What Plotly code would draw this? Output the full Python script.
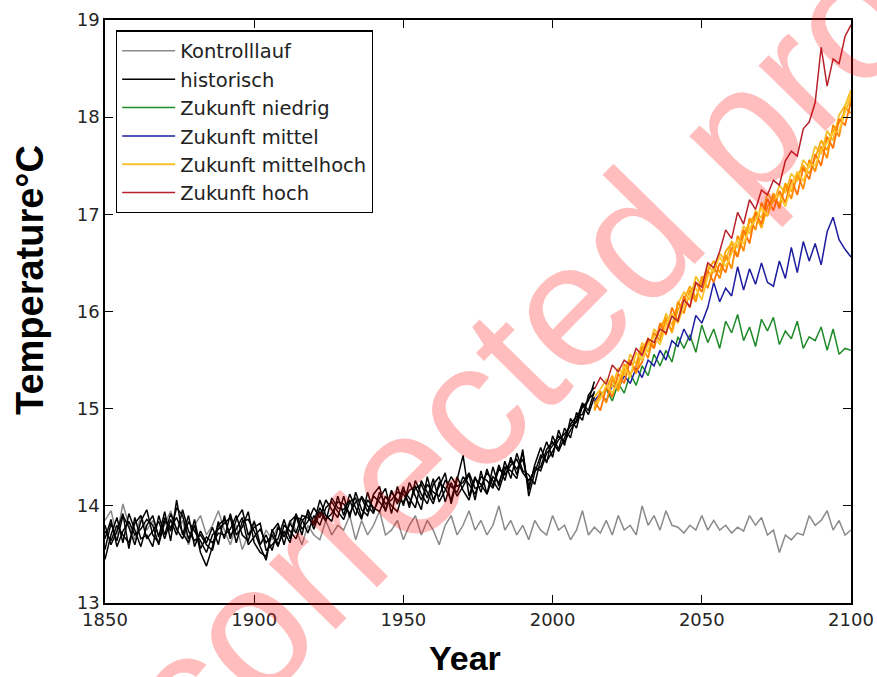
import plotly.graph_objects as go

# ---------------- data ----------------
years_ctrl = list(range(1850, 2101, 2))
years_hist = list(range(1850, 2015, 2))
years_fut = list(range(2014, 2101, 2))

kontrolllauf = [
    13.85, 13.95, 13.70, 14.02, 13.80, 13.65, 13.90, 13.75, 13.85, 13.70,
    13.80, 13.95, 13.75, 13.85, 13.60, 13.80, 13.90, 13.70, 13.80, 13.95,
    13.75, 13.60, 13.80, 13.55, 13.70, 13.85, 13.60, 13.75, 13.65, 13.80,
    13.70, 13.85, 13.75, 13.60, 13.80, 13.70, 13.65, 13.85, 13.70, 13.80,
    13.75, 13.90, 13.65, 13.85, 13.70, 13.80, 13.95, 13.70, 13.75, 13.85,
    13.65, 13.80, 13.90, 13.70, 13.85, 13.75, 13.60, 13.80, 13.90, 13.70,
    13.80, 13.95, 13.75, 13.85, 13.70, 13.80, 14.00, 13.75, 13.85, 13.70,
    13.80, 13.65, 13.85, 13.75, 13.70, 13.90, 13.75, 13.80, 13.65, 13.75,
    13.95, 13.70, 13.78, 13.72, 13.85, 13.70, 13.90, 13.75, 13.80, 13.70,
    14.00, 13.80, 13.90, 13.75, 13.95, 13.80, 13.78, 13.72, 13.80, 13.75,
    13.90, 13.75, 13.85, 13.75, 13.80, 13.72, 13.78, 13.74, 13.90, 13.80,
    13.88, 13.70, 13.75, 13.52, 13.70, 13.65, 13.72, 13.70, 13.90, 13.80,
    13.85, 13.95, 13.75, 13.85, 13.70, 13.75,
]

hist_1 = [
    13.55, 13.82, 13.64, 13.90, 13.78, 13.60, 13.84, 13.96, 13.70, 13.62,
    13.88, 13.74, 13.98, 13.90, 13.66, 13.80, 13.52, 13.38, 13.58, 13.84,
    13.66, 13.92, 13.70, 13.78, 13.94, 13.62, 13.52, 13.48, 13.74, 13.82,
    13.60, 13.84, 13.90, 13.70, 13.96, 13.82, 14.06, 13.90, 13.84, 14.10,
    13.90, 14.12, 13.98, 13.86, 14.14, 13.94, 14.08, 14.18, 13.92, 14.20,
    14.00, 14.24, 14.10, 13.96, 14.30, 14.06, 14.20, 14.34, 14.02, 14.28,
    14.52, 14.10, 14.30, 14.14, 14.38, 14.20, 14.42, 14.26, 14.50, 14.32,
    14.55, 14.16, 14.42, 14.60, 14.44, 14.72, 14.58, 14.80, 14.70, 14.96,
    14.88, 15.14, 15.22,
]
hist_2 = [
    13.45, 13.70, 13.88, 13.62, 13.92, 13.74, 13.58, 13.80, 13.90, 13.68,
    13.94, 13.64, 14.06, 13.70, 13.90, 13.58, 13.74, 13.62, 13.78, 13.60,
    13.90, 13.66, 13.86, 13.96, 13.70, 13.78, 13.82, 13.54, 13.60, 13.66,
    13.86, 13.66, 13.92, 13.76, 13.84, 13.98, 13.88, 14.06, 13.96, 13.88,
    14.10, 13.88, 14.14, 13.96, 13.90, 14.12, 14.20, 13.94, 14.16, 14.02,
    14.20, 13.98, 14.26, 14.12, 14.02, 14.22, 14.30, 14.04, 14.24, 14.10,
    14.20, 14.32, 14.06, 14.36, 14.12, 14.40, 14.20, 14.46, 14.28, 14.54,
    14.36, 14.32, 14.22, 14.48, 14.66, 14.50, 14.78, 14.62, 14.90, 14.80,
    15.04, 14.94, 15.12,
]
hist_3 = [
    13.80, 13.60, 13.74, 13.92, 13.56, 13.88, 13.66, 13.70, 13.58, 13.90,
    13.70, 13.92, 13.76, 13.66, 13.84, 13.74, 13.64, 13.52, 13.70, 13.76,
    13.82, 13.88, 13.62, 13.84, 13.86, 13.74, 13.58, 13.44, 13.76, 13.60,
    13.74, 13.62, 13.88, 13.86, 13.72, 13.90, 13.80, 13.98, 14.04, 13.94,
    13.86, 14.04, 14.08, 13.88, 14.06, 13.98, 13.94, 14.10, 14.00, 13.94,
    14.16, 14.08, 13.98, 14.26, 14.14, 14.02, 14.24, 14.18, 14.06, 14.30,
    14.16, 14.06, 14.28, 14.22, 14.12, 14.30, 14.24, 14.40, 14.36, 14.28,
    14.58, 14.10, 14.34, 14.52, 14.46, 14.56, 14.68, 14.74, 14.82, 14.86,
    15.02, 15.08, 15.28,
]
hist_4 = [
    13.66, 13.86, 13.58, 13.74, 13.84, 13.70, 13.76, 13.86, 13.80, 13.60,
    13.84, 13.78, 13.88, 13.72, 13.62, 13.86, 13.56, 13.68, 13.62, 13.72,
    13.70, 13.76, 13.90, 13.70, 13.64, 13.84, 13.60, 13.70, 13.54, 13.78,
    13.68, 13.82, 13.72, 13.90, 13.88, 13.80, 13.98, 13.86, 13.92, 14.04,
    14.02, 13.92, 14.04, 14.08, 13.94, 14.10, 14.04, 13.96, 14.14, 14.06,
    14.04, 14.16, 14.20, 14.06, 14.22, 14.14, 14.10, 14.26, 14.20, 14.14,
    14.30, 14.22, 14.12, 14.30, 14.26, 14.18, 14.38, 14.32, 14.42, 14.48,
    14.34, 14.26, 14.36, 14.40, 14.58, 14.66, 14.56, 14.70, 14.84, 14.92,
    14.94, 15.10, 15.16,
]
hist_5 = [
    13.74, 13.64, 13.80, 13.70, 13.62, 13.82, 13.90, 13.66, 13.74, 13.84,
    13.66, 13.86, 13.70, 13.96, 13.74, 13.64, 13.70, 13.60, 13.54, 13.80,
    13.86, 13.70, 13.76, 13.88, 13.60, 13.68, 13.76, 13.62, 13.70, 13.58,
    13.80, 13.74, 13.66, 13.84, 13.92, 13.76, 13.94, 13.84, 14.08, 13.98,
    13.96, 14.06, 13.90, 14.10, 14.00, 13.92, 14.14, 14.02, 14.06, 14.14,
    14.12, 14.02, 14.18, 14.22, 14.08, 14.28, 14.04, 14.16, 14.30, 14.20,
    14.24, 14.34, 14.18, 14.20, 14.34, 14.26, 14.16, 14.36, 14.46, 14.38,
    14.48, 14.20, 14.40, 14.36, 14.54, 14.62, 14.72, 14.66, 14.78, 14.88,
    15.06, 14.98, 15.18,
]

niedrig = [
    15.05, 15.14, 15.20, 15.08, 15.26, 15.16, 15.36, 15.24, 15.44, 15.34,
    15.56, 15.44, 15.60, 15.48, 15.74, 15.62, 15.76, 15.58, 15.86, 15.68,
    15.82, 15.62, 15.90, 15.78, 15.97, 15.70, 15.84, 15.64, 15.92, 15.80,
    15.94, 15.66, 15.80, 15.72, 15.90, 15.62, 15.74, 15.70, 15.84, 15.60,
    15.82, 15.56, 15.62, 15.60,
]
mittel = [
    15.08, 15.16, 15.08, 15.24, 15.20, 15.34, 15.26, 15.42, 15.32, 15.50,
    15.44, 15.60, 15.50, 15.70, 15.64, 15.82, 15.70, 15.96, 15.88, 16.04,
    16.30, 16.10, 16.24, 16.16, 16.46, 16.22, 16.44, 16.28, 16.50, 16.30,
    16.26, 16.52, 16.34, 16.66, 16.40, 16.72, 16.52, 16.70, 16.48, 16.82,
    16.97, 16.74, 16.64, 16.56,
]
mittelhoch_1 = [
    15.00, 15.18, 15.06, 15.30, 15.22, 15.46, 15.36, 15.44, 15.64, 15.52,
    15.78, 15.70, 15.92, 15.80, 16.10, 15.98, 16.22, 16.10, 16.36, 16.24,
    16.46, 16.34, 16.58, 16.44, 16.78, 16.62, 16.96, 16.84, 17.12, 16.98,
    17.22, 17.06, 17.30, 17.16, 17.42, 17.26, 17.56, 17.44, 17.70, 17.58,
    17.92, 17.80, 18.10, 18.04,
]
mittelhoch_2 = [
    15.08, 14.98, 15.22, 15.12, 15.36, 15.26, 15.50, 15.38, 15.48, 15.70,
    15.62, 15.88, 15.76, 16.04, 15.90, 16.16, 16.04, 16.30, 16.20, 16.42,
    16.30, 16.50, 16.40, 16.66, 16.56, 16.84, 16.70, 17.02, 16.90, 17.16,
    17.04, 17.24, 17.12, 17.36, 17.20, 17.48, 17.36, 17.62, 17.50, 17.80,
    17.68, 17.98, 17.92, 18.16,
]
mittelhoch_3 = [
    15.12, 15.20, 15.30, 15.22, 15.42, 15.34, 15.56, 15.46, 15.68, 15.58,
    15.82, 15.74, 15.98, 15.86, 16.08, 16.20, 16.12, 16.36, 16.26, 16.48,
    16.40, 16.60, 16.52, 16.72, 16.66, 16.88, 16.80, 17.04, 16.96, 17.22,
    17.12, 17.30, 17.22, 17.42, 17.34, 17.56, 17.48, 17.70, 17.62, 17.86,
    17.76, 18.02, 18.12, 18.28,
]
mittelhoch_4 = [
    14.98, 15.12, 15.20, 15.34, 15.18, 15.40, 15.50, 15.36, 15.60, 15.72,
    15.64, 15.84, 15.94, 15.78, 16.02, 16.12, 16.26, 16.14, 16.32, 16.42,
    16.52, 16.40, 16.62, 16.70, 16.58, 16.78, 16.92, 17.00, 16.86, 17.08,
    17.18, 17.10, 17.32, 17.24, 17.38, 17.50, 17.42, 17.58, 17.76, 17.66,
    17.86, 17.94, 18.06, 18.20,
]
mittelhoch_5 = [
    15.04, 15.10, 15.24, 15.16, 15.28, 15.44, 15.32, 15.58, 15.50, 15.66,
    15.74, 15.66, 15.86, 15.98, 15.88, 16.06, 16.18, 16.24, 16.12, 16.36,
    16.44, 16.56, 16.46, 16.60, 16.74, 16.70, 16.86, 16.94, 17.06, 17.00,
    17.14, 17.20, 17.08, 17.30, 17.44, 17.34, 17.52, 17.50, 17.66, 17.74,
    17.84, 17.86, 18.04, 18.24,
]
hoch = [
    15.20, 15.32, 15.25, 15.45, 15.38, 15.50, 15.45, 15.62, 15.55, 15.72,
    15.68, 15.82, 15.78, 15.95, 15.90, 16.12, 16.05, 16.30, 16.25, 16.50,
    16.45, 16.62, 16.84, 16.75, 17.02, 16.90, 17.15, 17.05, 17.25, 17.20,
    17.35, 17.30, 17.55, 17.65, 17.60, 17.88, 17.95, 18.15, 18.72, 18.32,
    18.60, 18.55, 18.83, 18.95,
]

x_ticks = [1850, 1900, 1950, 2000, 2050, 2100]
y_ticks = [13, 14, 15, 16, 17, 18, 19]

# ---------------- figure ----------------
fig = go.Figure()
LW = 1.5


def add(x, y, name, color, show, group, width=LW):
    fig.add_trace(go.Scatter(
        x=x, y=y, mode="lines", name=name, legendgroup=group,
        showlegend=show, line=dict(color=color, width=width),
        hoverinfo="skip",
    ))


add(years_ctrl, kontrolllauf, "Kontrolllauf", "#8a8a8a", True, "g1")
for i, h in enumerate([hist_1, hist_2, hist_3, hist_4, hist_5]):
    add(years_hist, h, "historisch", "#000000", i == 0, "g2")
add(years_fut, niedrig, "Zukunft niedrig", "#1f8a2a", True, "g3")
add(years_fut, mittel, "Zukunft mittel", "#1c1ca0", True, "g4")
add(years_fut, mittelhoch_3, "Zukunft mittelhoch", "#f5bf2a", True, "g5", 1.8)
add(years_fut, mittelhoch_1, "Zukunft mittelhoch", "#ff8c00", False, "g5", 1.8)
add(years_fut, mittelhoch_4, "Zukunft mittelhoch", "#ffa500", False, "g5", 1.8)
add(years_fut, mittelhoch_2, "Zukunft mittelhoch", "#ff7400", False, "g5", 1.8)
add(years_fut, mittelhoch_5, "Zukunft mittelhoch", "#ffc830", False, "g5", 1.8)
add(years_fut, hoch, "Zukunft hoch", "#b8222c", True, "g6")

axis_common = dict(
    showline=True, linecolor="black", linewidth=1.5, mirror="allticks",
    ticks="inside", ticklen=8, tickwidth=1, tickcolor="black",
    showgrid=False, zeroline=False, automargin=False,
    tickfont=dict(family="DejaVu Sans", size=18, color="#262626"),
)

fig.update_xaxes(range=[1850, 2100], tickvals=x_ticks, **axis_common)
fig.update_yaxes(range=[13, 19], tickvals=y_ticks, **axis_common)

fig.update_layout(
    width=877, height=677,
    margin=dict(l=105, r=26, t=20, b=74),
    paper_bgcolor="white", plot_bgcolor="white",
    legend=dict(
        x=0.0147, y=0.982, xanchor="left", yanchor="top",
        bgcolor="white", bordercolor="black", borderwidth=1.2,
        font=dict(family="DejaVu Sans", size=19.5, color="#222222"),
        traceorder="grouped", tracegroupgap=0, itemwidth=53,
    ),
    annotations=[
        dict(text="<b>Year</b>", xref="paper", yref="paper",
             x=(465 - 105) / 746, y=1 - (658 - 20) / 583,
             showarrow=False, xanchor="center", yanchor="middle",
             font=dict(family="Liberation Sans", size=34, color="black")),
        dict(text="<b>Temperature°C</b>", xref="paper", yref="paper",
             x=(30 - 105) / 746, y=1 - (280 - 20) / 583, textangle=-90,
             showarrow=False, xanchor="center", yanchor="middle",
             font=dict(family="Liberation Sans", size=38, color="black")),
        dict(text="uncorrected proof", xref="paper", yref="paper",
             x=(501 - 105) / 746, y=1 - (374 - 20) / 583, textangle=-45.5,
             showarrow=False, xanchor="center", yanchor="middle",
             font=dict(family="Liberation Sans", size=177,
                       color="rgba(255,0,0,0.26)")),
    ],
)

fig.write_html("out.html")
